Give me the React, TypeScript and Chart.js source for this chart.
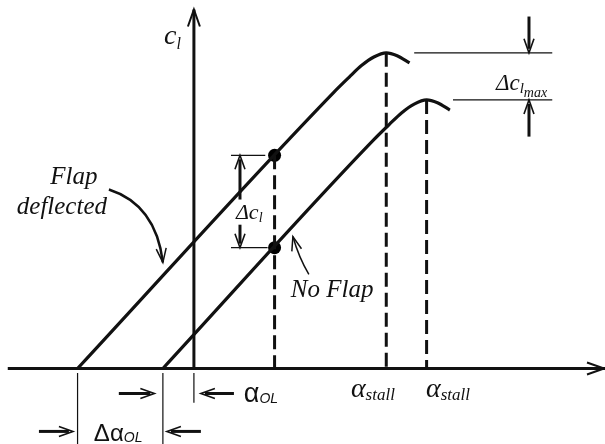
import React, { useEffect, useRef } from "react";
import { Chart, registerables } from "chart.js";
Chart.register(...registerables);

// ---------------- data (angle of attack in deg, lift coefficient) ----------------
const xRange = [-12.5, 26.5];
const yRange = [-0.42, 2.05];

const noFlapAlpha = [-2.0, 11.6, 12.6, 13.4, 14.2, 15.0, 15.7, 16.5];
const noFlapCl = [0, 1.273, 1.358, 1.423, 1.471, 1.494, 1.478, 1.438];
const flapAlpha = [-7.5, 9.0, 10.0, 10.8, 11.6, 12.4, 13.1, 13.9];
const flapCl = [0, 1.535, 1.62, 1.685, 1.733, 1.756, 1.74, 1.7];

const compareAlpha = 5.2;
const compareCl = [1.186, 0.672]; // flap, no flap
const stallAlpha = [12.4, 15.0]; // flap, no flap
const clMax = [1.756, 1.494]; // flap, no flap
const alphaZeroLift = [-7.5, -2.0]; // flap, no flap

const xAxisSpan = [-12.0, 26.5];
const yAxisTop = 1.997;

// ---------------- annotation layout (data units) ----------------
const thinLines: [number, number, number, number][] = [
  [14.2, clMax[0], 23.1, clMax[0]],
  [16.7, clMax[1], 23.1, clMax[1]],
  [2.39, compareCl[0], 4.6, compareCl[0]],
  [2.39, compareCl[1], 4.75, compareCl[1]],
  [alphaZeroLift[0], -0.025, alphaZeroLift[0], -0.42],
  [alphaZeroLift[1], -0.025, alphaZeroLift[1], -0.42],
  [0, -0.025, 0, -0.19],
];

const arrows: [number, number, number, number][] = [
  [21.6, 1.958, 21.6, clMax[0]],
  [21.6, 1.29, 21.6, clMax[1]],
  [2.97, 0.94, 2.97, compareCl[0]],
  [2.97, 0.8, 2.97, compareCl[1]],
  [-4.84, -0.139, -2.55, -0.139],
  [2.58, -0.139, 0.45, -0.139],
  [-9.99, -0.35, -7.8, -0.35],
  [0.45, -0.35, -1.74, -0.35],
];

// curved pointers: from, control, to, width
const curvedArrows: { p: number[]; w: number }[] = [
  { p: [-5.48, 0.996, -2.45, 0.912, -2.0, 0.59], w: 2.5 },
  { p: [7.41, 0.523, 6.75, 0.62, 6.38, 0.734], w: 1.5 },
];

const SERIF = '"Liberation Serif", "Times New Roman", serif';
const SANS = '"Liberation Sans", Arial, sans-serif';

type Run = { t: string; font: string; dy?: number };
type Label = { x: number; y: number; align: "left" | "center"; runs: Run[] };

const labels: Label[] = [
  { x: -1.93, y: 1.808, align: "left", runs: [{ t: "c", font: `italic 28px ${SERIF}` }, { t: "l", font: `italic 16px ${SERIF}`, dy: 5 }] },
  { x: -7.74, y: 1.024, align: "center", runs: [{ t: "Flap", font: `italic 25px ${SERIF}` }] },
  { x: -8.51, y: 0.862, align: "center", runs: [{ t: "deflected", font: `italic 25px ${SERIF}` }] },
  { x: 6.25, y: 0.4, align: "left", runs: [{ t: "No Flap", font: `italic 25px ${SERIF}` }] },
  { x: 2.71, y: 0.829, align: "left", runs: [{ t: "Δc", font: `italic 22px ${SERIF}` }, { t: "l", font: `italic 14px ${SERIF}`, dy: 3 }] },
  { x: 19.47, y: 1.552, align: "left", runs: [{ t: "Δc", font: `italic 23px ${SERIF}` }, { t: "l", font: `italic 15px ${SERIF}`, dy: 3 }, { t: "max", font: `italic 14px ${SERIF}`, dy: 7 }] },
  { x: 3.22, y: -0.184, align: "left", runs: [{ t: "α", font: `27px ${SANS}` }, { t: "OL", font: `italic 14px ${SANS}`, dy: 1 }] },
  { x: -6.45, y: -0.406, align: "left", runs: [{ t: "Δα", font: `24px ${SANS}` }, { t: "OL", font: `italic 14px ${SANS}`, dy: 1 }] },
  { x: 10.12, y: -0.156, align: "left", runs: [{ t: "α", font: `italic 28px ${SERIF}` }, { t: "stall", font: `italic 17px ${SERIF}`, dy: 3 }] },
  { x: 14.96, y: -0.156, align: "left", runs: [{ t: "α", font: `italic 28px ${SERIF}` }, { t: "stall", font: `italic 17px ${SERIF}`, dy: 3 }] },
];

const INK = "#111";

function head(ctx: CanvasRenderingContext2D, tx: number, ty: number, ang: number, len: number, half: number) {
  const c = Math.cos(ang), s = Math.sin(ang);
  const bx = tx - len * c, by = ty - len * s;
  ctx.beginPath();
  ctx.moveTo(bx - half * s, by + half * c);
  ctx.lineTo(tx, ty);
  ctx.lineTo(bx + half * s, by - half * c);
  ctx.stroke();
}

const annotPlugin = {
  id: "annot",
  afterDatasetsDraw(chart: any) {
    const { ctx } = chart;
    const xs = chart.scales.x, ys = chart.scales.y;
    const X = (v: number) => xs.getPixelForValue(v);
    const Y = (v: number) => ys.getPixelForValue(v);
    ctx.save();
    ctx.strokeStyle = INK;
    ctx.fillStyle = INK;
    ctx.lineCap = "butt";
    ctx.lineJoin = "miter";

    // axis arrowheads
    ctx.lineWidth = 2;
    head(ctx, X(xAxisSpan[1]) - 1, Y(0), 0, 17, 6);
    head(ctx, X(0), Y(yAxisTop), -Math.PI / 2, 17, 6);

    // straight arrows
    for (const [x1, y1, x2, y2] of arrows) {
      const px1 = X(x1), py1 = Y(y1), px2 = X(x2), py2 = Y(y2);
      const ang = Math.atan2(py2 - py1, px2 - px1);
      ctx.lineWidth = 3;
      ctx.beginPath();
      ctx.moveTo(px1, py1);
      ctx.lineTo(px2 - 4 * Math.cos(ang), py2 - 4 * Math.sin(ang));
      ctx.stroke();
      ctx.lineWidth = 1.6;
      head(ctx, px2, py2, ang, 14, 5);
    }

    // curved pointers
    for (const { p, w } of curvedArrows) {
      const [x1, y1, cx, cy, x2, y2] = p;
      ctx.lineWidth = w;
      ctx.beginPath();
      ctx.moveTo(X(x1), Y(y1));
      ctx.quadraticCurveTo(X(cx), Y(cy), X(x2), Y(y2));
      ctx.stroke();
      const ang = Math.atan2(Y(y2) - Y(cy), X(x2) - X(cx));
      ctx.lineWidth = 1.5;
      head(ctx, X(x2), Y(y2), ang, 14, 5);
    }

    // labels
    ctx.textBaseline = "alphabetic";
    ctx.textAlign = "left";
    for (const l of labels) {
      let total = 0;
      for (const r of l.runs) {
        ctx.font = r.font;
        total += ctx.measureText(r.t).width;
      }
      let px = X(l.x) - (l.align === "center" ? total / 2 : 0);
      const py = Y(l.y);
      for (const r of l.runs) {
        ctx.font = r.font;
        ctx.fillText(r.t, px, py + (r.dy || 0));
        px += ctx.measureText(r.t).width;
      }
    }
    ctx.restore();
  },
};

function seg(x1: number, y1: number, x2: number, y2: number, extra: any) {
  return {
    type: "scatter",
    data: [{ x: x1, y: y1 }, { x: x2, y: y2 }],
    showLine: true,
    pointRadius: 0,
    borderColor: INK,
    clip: false,
    ...extra,
  };
}

export default function App() {
  const ref = useRef<HTMLCanvasElement | null>(null);
  useEffect(() => {
    if (!ref.current) return;
    const datasets: any[] = [];
    // axes
    datasets.push(seg(xAxisSpan[0], 0, xAxisSpan[1], 0, { borderWidth: 3 }));
    datasets.push(seg(0, 0, 0, yAxisTop, { borderWidth: 3 }));
    // lift curves
    datasets.push({
      type: "scatter",
      label: "Flap deflected",
      data: flapAlpha.map((a, i) => ({ x: a, y: flapCl[i] })),
      showLine: true,
      pointRadius: 0,
      borderColor: INK,
      borderWidth: 3.2,
      cubicInterpolationMode: "monotone",
      clip: false,
    });
    datasets.push({
      type: "scatter",
      label: "No Flap",
      data: noFlapAlpha.map((a, i) => ({ x: a, y: noFlapCl[i] })),
      showLine: true,
      pointRadius: 0,
      borderColor: INK,
      borderWidth: 3.2,
      cubicInterpolationMode: "monotone",
      clip: false,
    });
    // dashed verticals
    datasets.push(seg(compareAlpha, compareCl[0], compareAlpha, 0, { borderWidth: 3, borderDash: [14, 6] }));
    stallAlpha.forEach((a, i) => datasets.push(seg(a, clMax[i], a, 0, { borderWidth: 3, borderDash: [14, 6] })));
    // thin reference lines
    thinLines.forEach(([x1, y1, x2, y2]) => datasets.push(seg(x1, y1, x2, y2, { borderWidth: 1.2 })));
    // comparison dots
    datasets.push({
      type: "scatter",
      data: compareCl.map((c) => ({ x: compareAlpha, y: c })),
      pointRadius: 6.5,
      pointBackgroundColor: "#000",
      pointBorderWidth: 0,
      clip: false,
    });

    const chart = new Chart(ref.current, {
      type: "scatter",
      data: { datasets },
      options: {
        animation: false,
        responsive: false,
        maintainAspectRatio: false,
        layout: { padding: 0, autoPadding: false },
        events: [],
        plugins: { legend: { display: false }, tooltip: { enabled: false } },
        scales: {
          x: { type: "linear", min: xRange[0], max: xRange[1], display: false },
          y: { type: "linear", min: yRange[0], max: yRange[1], display: false },
        },
      },
      plugins: [annotPlugin],
    } as any);
    return () => chart.destroy();
  }, []);

  return (
    <div style={{ position: "absolute", left: 0, top: 0, width: 605, height: 444, background: "#fff" }}>
      <canvas ref={ref} width={605} height={444} style={{ display: "block", width: 605, height: 444 }} />
    </div>
  );
}
